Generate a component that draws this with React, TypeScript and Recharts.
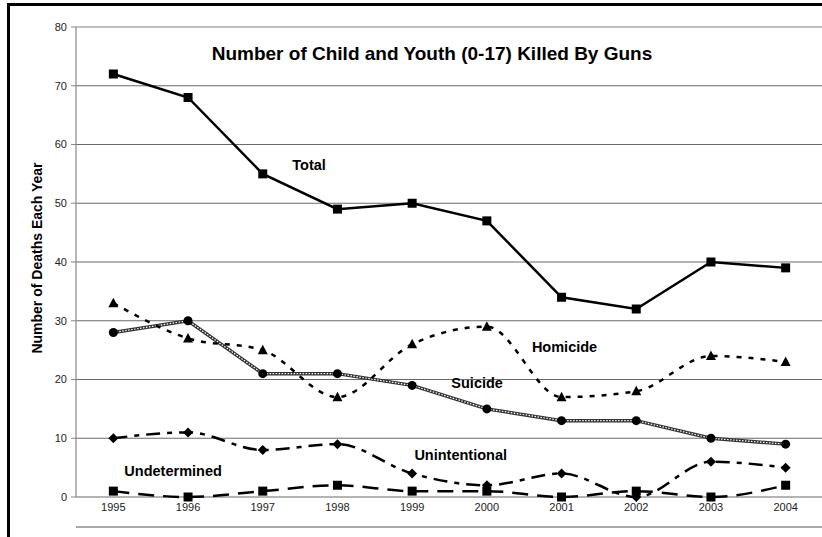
import React from 'react';
import { LineChart, Line, XAxis, YAxis, CartesianGrid, ReferenceLine, ReferenceDot } from 'recharts';

const years = [1995, 1996, 1997, 1998, 1999, 2000, 2001, 2002, 2003, 2004];
const total = [72, 68, 55, 49, 50, 47, 34, 32, 40, 39];
const homicide = [33, 27, 25, 17, 26, 29, 17, 18, 24, 23];
const suicide = [28, 30, 21, 21, 19, 15, 13, 13, 10, 9];
const unintentional = [10, 11, 8, 9, 4, 2, 4, 0, 6, 5];
const undetermined = [1, 0, 1, 2, 1, 1, 0, 1, 0, 2];
const yTicks = [0, 10, 20, 30, 40, 50, 60, 70, 80];
const boundaryTicks = [1994.5, 1995.5, 1996.5, 1997.5, 1998.5, 1999.5, 2000.5, 2001.5, 2002.5, 2003.5, 2004.5];

const seriesLabels = [
  { text: 'Total', year: 1997.62, value: 56.5 },
  { text: 'Homicide', year: 2001.04, value: 25.5 },
  { text: 'Suicide', year: 1999.87, value: 19.4 },
  { text: 'Unintentional', year: 1999.65, value: 7.25 },
  { text: 'Undetermined', year: 1995.8, value: 4.5 },
];

const data = years.map((y, i) => ({
  year: y,
  total: total[i],
  homicide: homicide[i],
  suicide: suicide[i],
  unintentional: unintentional[i],
  undetermined: undetermined[i],
}));

const FONT = '"Liberation Sans", Arial, sans-serif';

const SquareDot = (p: any) => {
  const { cx, cy } = p;
  if (cx == null || cy == null) return null;
  return <rect key={p.index} x={cx - 4.5} y={cy - 4.5} width={9} height={9} fill="#000" />;
};
const TriangleDot = (p: any) => {
  const { cx, cy } = p;
  if (cx == null || cy == null) return null;
  return <polygon key={p.index} points={`${cx},${cy - 5.5} ${cx + 5},${cy + 4} ${cx - 5},${cy + 4}`} fill="#000" />;
};
const CircleDot = (p: any) => {
  const { cx, cy } = p;
  if (cx == null || cy == null) return null;
  return <circle key={p.index} cx={cx} cy={cy} r={4.5} fill="#000" />;
};
const DiamondDot = (p: any) => {
  const { cx, cy } = p;
  if (cx == null || cy == null) return null;
  return <polygon key={p.index} points={`${cx},${cy - 5} ${cx + 5},${cy} ${cx},${cy + 5} ${cx - 5},${cy}`} fill="#000" />;
};

export default function App() {
  return (
    <div style={{ position: 'absolute', left: 0, top: 0, width: 822, height: 537, overflow: 'hidden', background: '#fff', fontFamily: FONT }}>
      <div style={{ position: 'absolute', left: 7, top: 3, width: 900, height: 600, borderLeft: '3px solid #000', borderTop: '3px solid #000' }} />
      <div style={{ position: 'absolute', left: 0, top: 0 }}>
        <LineChart width={824} height={537} data={data} margin={{ top: 27, right: 1, left: 0, bottom: 4 }}>
          <CartesianGrid xAxisId="l" vertical={false} stroke="#6a6a6a" strokeWidth={1.2} />
          <ReferenceLine xAxisId="l" y={80} stroke="#c4c4c4" strokeWidth={1.5} />
          <XAxis
            xAxisId="m"
            dataKey="year"
            type="number"
            domain={[1994.5, 2004.5]}
            ticks={boundaryTicks}
            tick={false}
            tickSize={5}
            height={6}
            axisLine={{ stroke: '#555', strokeWidth: 1.2 }}
            tickLine={{ stroke: '#555' }}
            interval={0}
          />
          <XAxis
            xAxisId="l"
            dataKey="year"
            type="number"
            domain={[1994.5, 2004.5]}
            ticks={years}
            tickLine={false}
            axisLine={false}
            tickSize={0}
            tickMargin={6}
            height={30}
            interval={0}
            tick={{ fontSize: 11, fill: '#222', fontFamily: FONT }}
          />
          <YAxis
            domain={[0, 80]}
            ticks={yTicks}
            width={76}
            tickSize={5}
            tickMargin={4}
            interval={0}
            axisLine={{ stroke: '#888', strokeWidth: 1.2 }}
            tickLine={{ stroke: '#888' }}
            tick={{ fontSize: 11, fill: '#222', fontFamily: FONT }}
            label={{
              value: 'Number of Deaths Each Year',
              angle: -90,
              position: 'insideLeft',
              offset: 37,
              dy: -4,
              style: { textAnchor: 'middle' },
              fontSize: 14,
              fontWeight: 700,
              fill: '#000',
              fontFamily: FONT,
            }}
          />
          <Line xAxisId="l" dataKey="undetermined" type="monotone" stroke="#000" strokeWidth={2.5} strokeDasharray="16 9" dot={SquareDot} isAnimationActive={false} />
          <Line xAxisId="l" dataKey="unintentional" type="monotone" stroke="#000" strokeWidth={2.5} strokeDasharray="14 7 5 7" dot={DiamondDot} isAnimationActive={false} />
          <Line xAxisId="l" dataKey="suicide" type="linear" stroke="#333" strokeWidth={3.5} dot={false} isAnimationActive={false} />
          <Line xAxisId="l" dataKey="suicide" type="linear" stroke="#fff" strokeWidth={1.2} strokeDasharray="1.5 1.5" dot={CircleDot} isAnimationActive={false} />
          <Line xAxisId="l" dataKey="homicide" type="monotone" stroke="#000" strokeWidth={2.5} strokeDasharray="5 7" dot={TriangleDot} isAnimationActive={false} />
          <Line xAxisId="l" dataKey="total" type="linear" stroke="#000" strokeWidth={2.5} dot={SquareDot} isAnimationActive={false} />
          {seriesLabels.map((s) => (
            <ReferenceDot
              key={s.text}
              xAxisId="l"
              x={s.year}
              y={s.value}
              r={1}
              fill="none"
              stroke="none"
              label={{ value: s.text, position: 'center', fontSize: 14.5, fontWeight: 700, fill: '#000', fontFamily: FONT }}
            />
          ))}
        </LineChart>
      </div>
      <div style={{ position: 'absolute', left: 0, width: 864, top: 43, textAlign: 'center', fontSize: 19, fontWeight: 700, color: '#000', fontFamily: FONT, whiteSpace: 'nowrap' }}>
        Number of Child and Youth (0-17) Killed By Guns
      </div>
    </div>
  );
}
